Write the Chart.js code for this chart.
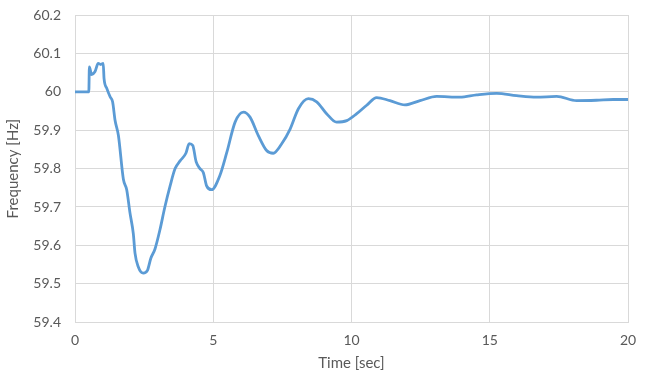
<!DOCTYPE html>
<html><head><meta charset="utf-8">
<script src="https://cdn.jsdelivr.net/npm/chart.js@4"></script>
<style>html,body{margin:0;padding:0;background:#fff}#w{width:650px;height:390px}</style>
</head><body><div id="w"><canvas id="c"></canvas></div>
<script>
const times = [0,0.5,0.52,0.60,0.72,0.84,0.93,1.02,1.05,1.15,1.27,1.36,1.45,1.57,1.75,1.87,1.99,2.11,2.17,2.29,2.47,2.62,2.74,2.89,3.07,3.25,3.44,3.62,3.80,4.01,4.13,4.26,4.38,4.52,4.64,4.76,4.94,5.24,5.49,5.79,6.09,6.33,6.63,6.93,7.17,7.47,7.78,8.08,8.44,8.74,9.10,9.46,9.83,10.19,10.55,10.91,11.39,11.93,12.48,13.08,13.92,14.53,15.25,15.97,16.69,17.42,18.14,18.86,19.47,20];
const freq = [60,60,60.065,60.045,60.052,60.074,60.071,60.074,60.035,60.009,59.987,59.974,59.925,59.886,59.772,59.745,59.684,59.63,59.58,59.544,59.528,59.535,59.566,59.59,59.64,59.70,59.755,59.80,59.82,59.84,59.865,59.86,59.818,59.80,59.79,59.755,59.745,59.782,59.842,59.921,59.947,59.934,59.886,59.847,59.84,59.864,59.903,59.956,59.982,59.974,59.943,59.921,59.925,59.943,59.965,59.985,59.977,59.966,59.977,59.988,59.986,59.992,59.996,59.99,59.986,59.988,59.977,59.978,59.98,59.98];
const xTicks = ['0','5','10','15','20'];
const yTicks = ['59.4','59.5','59.6','59.7','59.8','59.9','60','60.1','60.2'];

const pts = times.map((t,i)=>({x:t,y:freq[i]}));
const font = {family:'Lato, "Liberation Sans", sans-serif', size:14};
new Chart(document.getElementById('c'), {
  type:'scatter',
  data:{datasets:[{data:pts, showLine:true, borderColor:'#5B9BD5', borderWidth:2.8, pointRadius:0, cubicInterpolationMode:'monotone', fill:false}]},
  options:{
    responsive:true, maintainAspectRatio:false, animation:false,
    layout:{padding:{left:0,right:22,top:15,bottom:18}},
    plugins:{legend:{display:false}, tooltip:{enabled:false}},
    scales:{
      x:{type:'linear', min:0, max:20,
         ticks:{stepSize:5, color:'#595959', font, padding:10,
                callback:(v)=>{const i=xTicks.indexOf(String(Math.round(v))); return i>=0?xTicks[i]:'';}},
         grid:{color:'#D9D9D9', drawTicks:false, lineWidth:1},
         border:{color:'#D9D9D9'},
         title:{display:true, text:'Time [sec]', color:'#595959', font:{...font, size:15}, padding:{top:-5, bottom:0}}},
      y:{min:59.4, max:60.2,
         ticks:{stepSize:0.1, color:'#595959', font, padding:0,
                callback:(v)=>{const i=Math.round((v-59.4)*10); return yTicks[i]!==undefined?yTicks[i]:'';}},
         grid:{color:'#D9D9D9', drawTicks:true, tickLength:14, tickColor:'rgba(0,0,0,0)', lineWidth:1},
         border:{color:'#D9D9D9'},
         title:{display:true, text:'Frequency [Hz]', color:'#595959', font:{...font, size:15}, padding:{bottom:2}},
         afterFit:(s)=>{s.width=75;}}
    }
  }
});
</script></body></html>
